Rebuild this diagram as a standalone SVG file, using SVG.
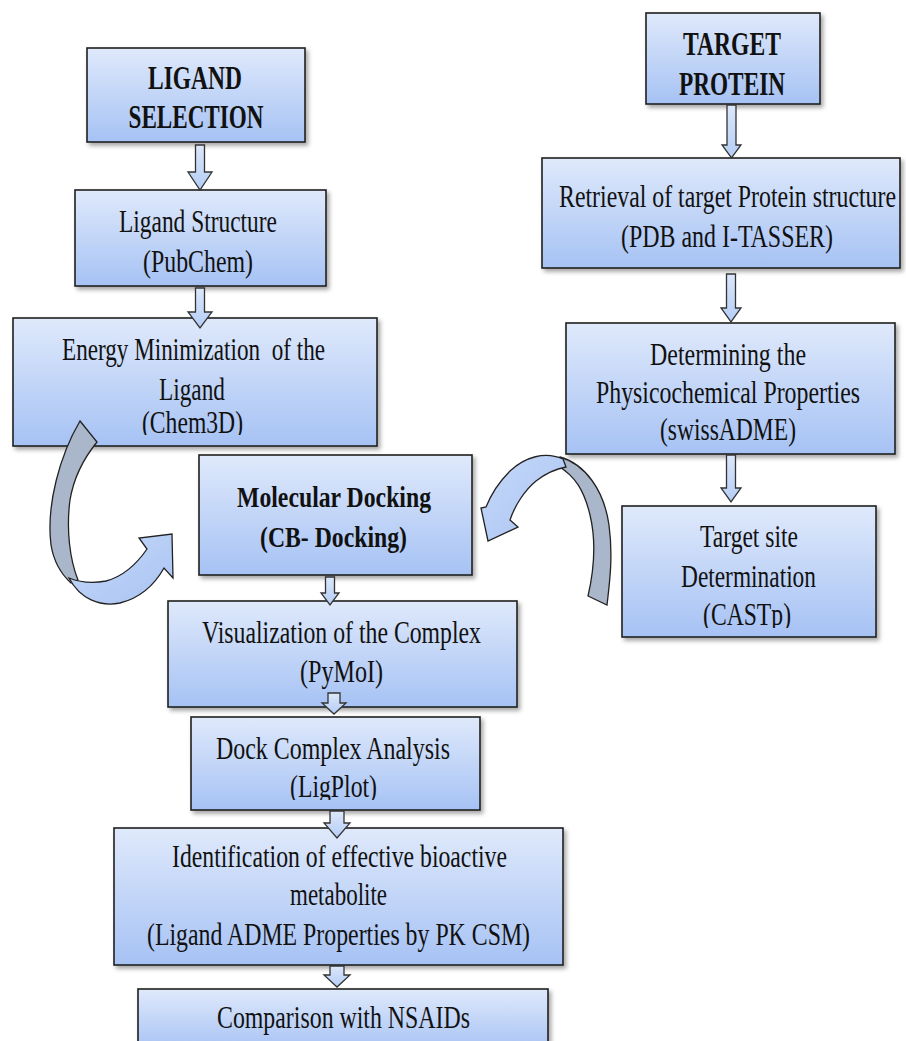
<svg xmlns="http://www.w3.org/2000/svg" width="906" height="1041" viewBox="0 0 906 1041">
<style>
.box{fill:url(#g);stroke:#1f1f1f;stroke-width:1.6;filter:url(#sh)}
.arr{fill:url(#ga);stroke:#333;stroke-width:1.3;stroke-linejoin:miter}
.t{font-family:"Liberation Serif","Times New Roman",serif;font-size:23.5px;fill:#111;text-anchor:middle}
.b{font-weight:bold;font-size:25.5px}
.m{font-weight:bold;font-size:22.5px}
.back{fill:#aab6c9;stroke:#222;stroke-width:1.3}
.front{fill:url(#gc);stroke:#222;stroke-width:1.3}
</style>
<defs>
<linearGradient id="g" x1="0" y1="0" x2="0" y2="1">
<stop offset="0" stop-color="#dfe9fb"/>
<stop offset="1" stop-color="#a6c2f4"/>
</linearGradient>
<linearGradient id="ga" x1="0" y1="0" x2="0" y2="1">
<stop offset="0" stop-color="#dce7fa"/>
<stop offset="1" stop-color="#b4cdf6"/>
</linearGradient>
<linearGradient id="gc" x1="0" y1="0" x2="1" y2="1">
<stop offset="0" stop-color="#c6d8f8"/>
<stop offset="1" stop-color="#a9c4f3"/>
</linearGradient>
<filter id="sh" x="-10%" y="-10%" width="130%" height="130%">
<feDropShadow dx="2.5" dy="3" stdDeviation="2" flood-color="#000" flood-opacity="0.35"/>
</filter>
<clipPath id="c3"><rect x="0" y="300" width="400" height="135"/></clipPath>
<clipPath id="c7"><rect x="600" y="500" width="300" height="128"/></clipPath>
<clipPath id="c10"><rect x="180" y="710" width="310" height="90"/></clipPath>
</defs>
<rect width="906" height="1041" fill="#fff"/>

<g id="ligand-selection">
<rect class="box" x="87" y="48" width="218" height="94"/>
<text class="t b" transform="translate(195,89) scale(1,1.35)" textLength="94" lengthAdjust="spacingAndGlyphs">LIGAND</text>
<text class="t b" transform="translate(196,128) scale(1,1.35)" textLength="135" lengthAdjust="spacingAndGlyphs">SELECTION</text>
</g>
<g id="ligand-structure">
<rect class="box" x="75" y="190" width="251" height="96"/>
<text class="t" transform="translate(198,232) scale(1,1.3)" textLength="158" lengthAdjust="spacingAndGlyphs">Ligand Structure</text>
<text class="t" transform="translate(198,272) scale(1,1.3)" textLength="110" lengthAdjust="spacingAndGlyphs">(PubChem)</text>
</g>
<g id="energy-minimization">
<rect class="box" x="13" y="318" width="364" height="128"/>
<g clip-path="url(#c3)">
<text class="t" transform="translate(193.5,360) scale(1,1.3)" textLength="263" lengthAdjust="spacingAndGlyphs" xml:space="preserve">Energy Minimization  of the</text>
<text class="t" transform="translate(192,400) scale(1,1.3)" textLength="66" lengthAdjust="spacingAndGlyphs">Ligand</text>
<text class="t" transform="translate(192.5,433) scale(1,1.3)" textLength="101" lengthAdjust="spacingAndGlyphs">(Chem3D)</text>
</g>
</g>
<g id="target-protein">
<rect class="box" x="646" y="13" width="174" height="91"/>
<text class="t b" transform="translate(732,55) scale(1,1.35)" textLength="98" lengthAdjust="spacingAndGlyphs">TARGET</text>
<text class="t b" transform="translate(732,95) scale(1,1.35)" textLength="106" lengthAdjust="spacingAndGlyphs">PROTEIN</text>
</g>
<g id="retrieval">
<rect class="box" x="542" y="158" width="358" height="110"/>
<text class="t" transform="translate(727.5,207) scale(1,1.3)" textLength="337" lengthAdjust="spacingAndGlyphs">Retrieval of target Protein structure</text>
<text class="t" transform="translate(727,247) scale(1,1.3)" textLength="212" lengthAdjust="spacingAndGlyphs">(PDB and I-TASSER)</text>
</g>
<g id="physicochemical">
<rect class="box" x="566" y="323" width="329" height="131"/>
<text class="t" transform="translate(728,365) scale(1,1.3)" textLength="156" lengthAdjust="spacingAndGlyphs">Determining the</text>
<text class="t" transform="translate(728,403) scale(1,1.3)" textLength="264" lengthAdjust="spacingAndGlyphs">Physicochemical Properties</text>
<text class="t" transform="translate(728,440) scale(1,1.3)" textLength="136" lengthAdjust="spacingAndGlyphs">(swissADME)</text>
</g>
<g id="target-site">
<rect class="box" x="622" y="506" width="254" height="131"/>
<g clip-path="url(#c7)">
<text class="t" transform="translate(749,547) scale(1,1.3)" textLength="98" lengthAdjust="spacingAndGlyphs">Target site</text>
<text class="t" transform="translate(748.5,587) scale(1,1.3)" textLength="135" lengthAdjust="spacingAndGlyphs">Determination</text>
<text class="t" transform="translate(747,625) scale(1,1.3)" textLength="88" lengthAdjust="spacingAndGlyphs">(CASTp)</text>
</g>
</g>
<g id="molecular-docking">
<rect class="box" x="199" y="455" width="273" height="120"/>
<text class="t m" transform="translate(334,507) scale(1,1.35)" textLength="194" lengthAdjust="spacingAndGlyphs">Molecular Docking</text>
<text class="t m" transform="translate(333.5,547) scale(1,1.35)" textLength="147" lengthAdjust="spacingAndGlyphs">(CB- Docking)</text>
</g>
<g id="visualization">
<rect class="box" x="168" y="601" width="349" height="106"/>
<text class="t" transform="translate(341.5,643) scale(1,1.3)" textLength="279" lengthAdjust="spacingAndGlyphs">Visualization of the Complex</text>
<text class="t" transform="translate(341.5,682) scale(1,1.3)" textLength="83" lengthAdjust="spacingAndGlyphs">(PyMoI)</text>
</g>
<g id="dock-complex">
<rect class="box" x="191" y="717" width="289" height="93"/>
<g clip-path="url(#c10)">
<text class="t" transform="translate(333,759) scale(1,1.3)" textLength="234" lengthAdjust="spacingAndGlyphs">Dock Complex Analysis</text>
<text class="t" transform="translate(333.5,797) scale(1,1.3)" textLength="87" lengthAdjust="spacingAndGlyphs">(LigPlot)</text>
</g>
</g>
<g id="identification">
<rect class="box" x="114" y="828" width="449" height="137"/>
<text class="t" transform="translate(339.5,867) scale(1,1.3)" textLength="335" lengthAdjust="spacingAndGlyphs">Identification of effective bioactive</text>
<text class="t" transform="translate(338.5,905) scale(1,1.3)" textLength="97" lengthAdjust="spacingAndGlyphs">metabolite</text>
<text class="t" transform="translate(338.5,945) scale(1,1.3)" textLength="383" lengthAdjust="spacingAndGlyphs">(Ligand ADME Properties by PK CSM)</text>
</g>
<g id="comparison">
<rect class="box" x="138" y="989" width="410" height="62"/>
<text class="t" transform="translate(343.5,1028) scale(1,1.3)" textLength="253" lengthAdjust="spacingAndGlyphs">Comparison with NSAIDs</text>
</g>

<g id="connectors">
<path class="arr" d="M195.5,145 H204.5 V172 H212 L200,190 L188,172 H195.5 Z"/>
<path class="arr" d="M195.5,288 H204.5 V312 H212 L200,328 L188,312 H195.5 Z"/>
<path class="arr" d="M727,105 H736 V145 H741 L731.5,158 L722,145 H727 Z"/>
<path class="arr" d="M726.5,274 H735.5 V308 H741 L731,322 L721,308 H726.5 Z"/>
<path class="arr" d="M726.5,455 H735.5 V488 H741 L731,502 L721,488 H726.5 Z"/>
<path class="arr" d="M325.5,577 H334.5 V593 H339 L330,605 L321,593 H325.5 Z"/>
<path class="arr" d="M328,693 H340 V703 H346 L334,714 L322,703 H328 Z"/>
<path class="arr" d="M330,811 H344 V823 H350 L337,838 L324,823 H330 Z"/>
<path class="arr" d="M330,966 H344 V975 H350 L337,987 L324,975 H330 Z"/>
<path class="back" d="M80,421 C60,455 46,505 51,545 C54,563 61,574 71,583 L78,580 C70,560 66,530 70,500 C74,476 84,458 97,442 Z"/>
<path class="front" d="M69,578 C80,599 100,607 120,603 C140,598 155,584 164,568 L173,578 L172,534 L139,538 L147,549 C136,565 121,577 106,581 C91,584 79,582 69,578 Z"/>
<path class="back" d="M560,457 C585,464 604,490 609,525 C613,555 610,580 607,605 L588,596 C594,570 596,540 590,515 C584,490 575,476 558,466 Z"/>
<path class="front" d="M563,459 C545,451 525,457 510,471 C498,483 490,497 486,507 L481,508 L488,541 L518,527 L510,520 C515,505 525,490 536,481 C545,474 555,469 566,467 Z"/>
</g>
</svg>
